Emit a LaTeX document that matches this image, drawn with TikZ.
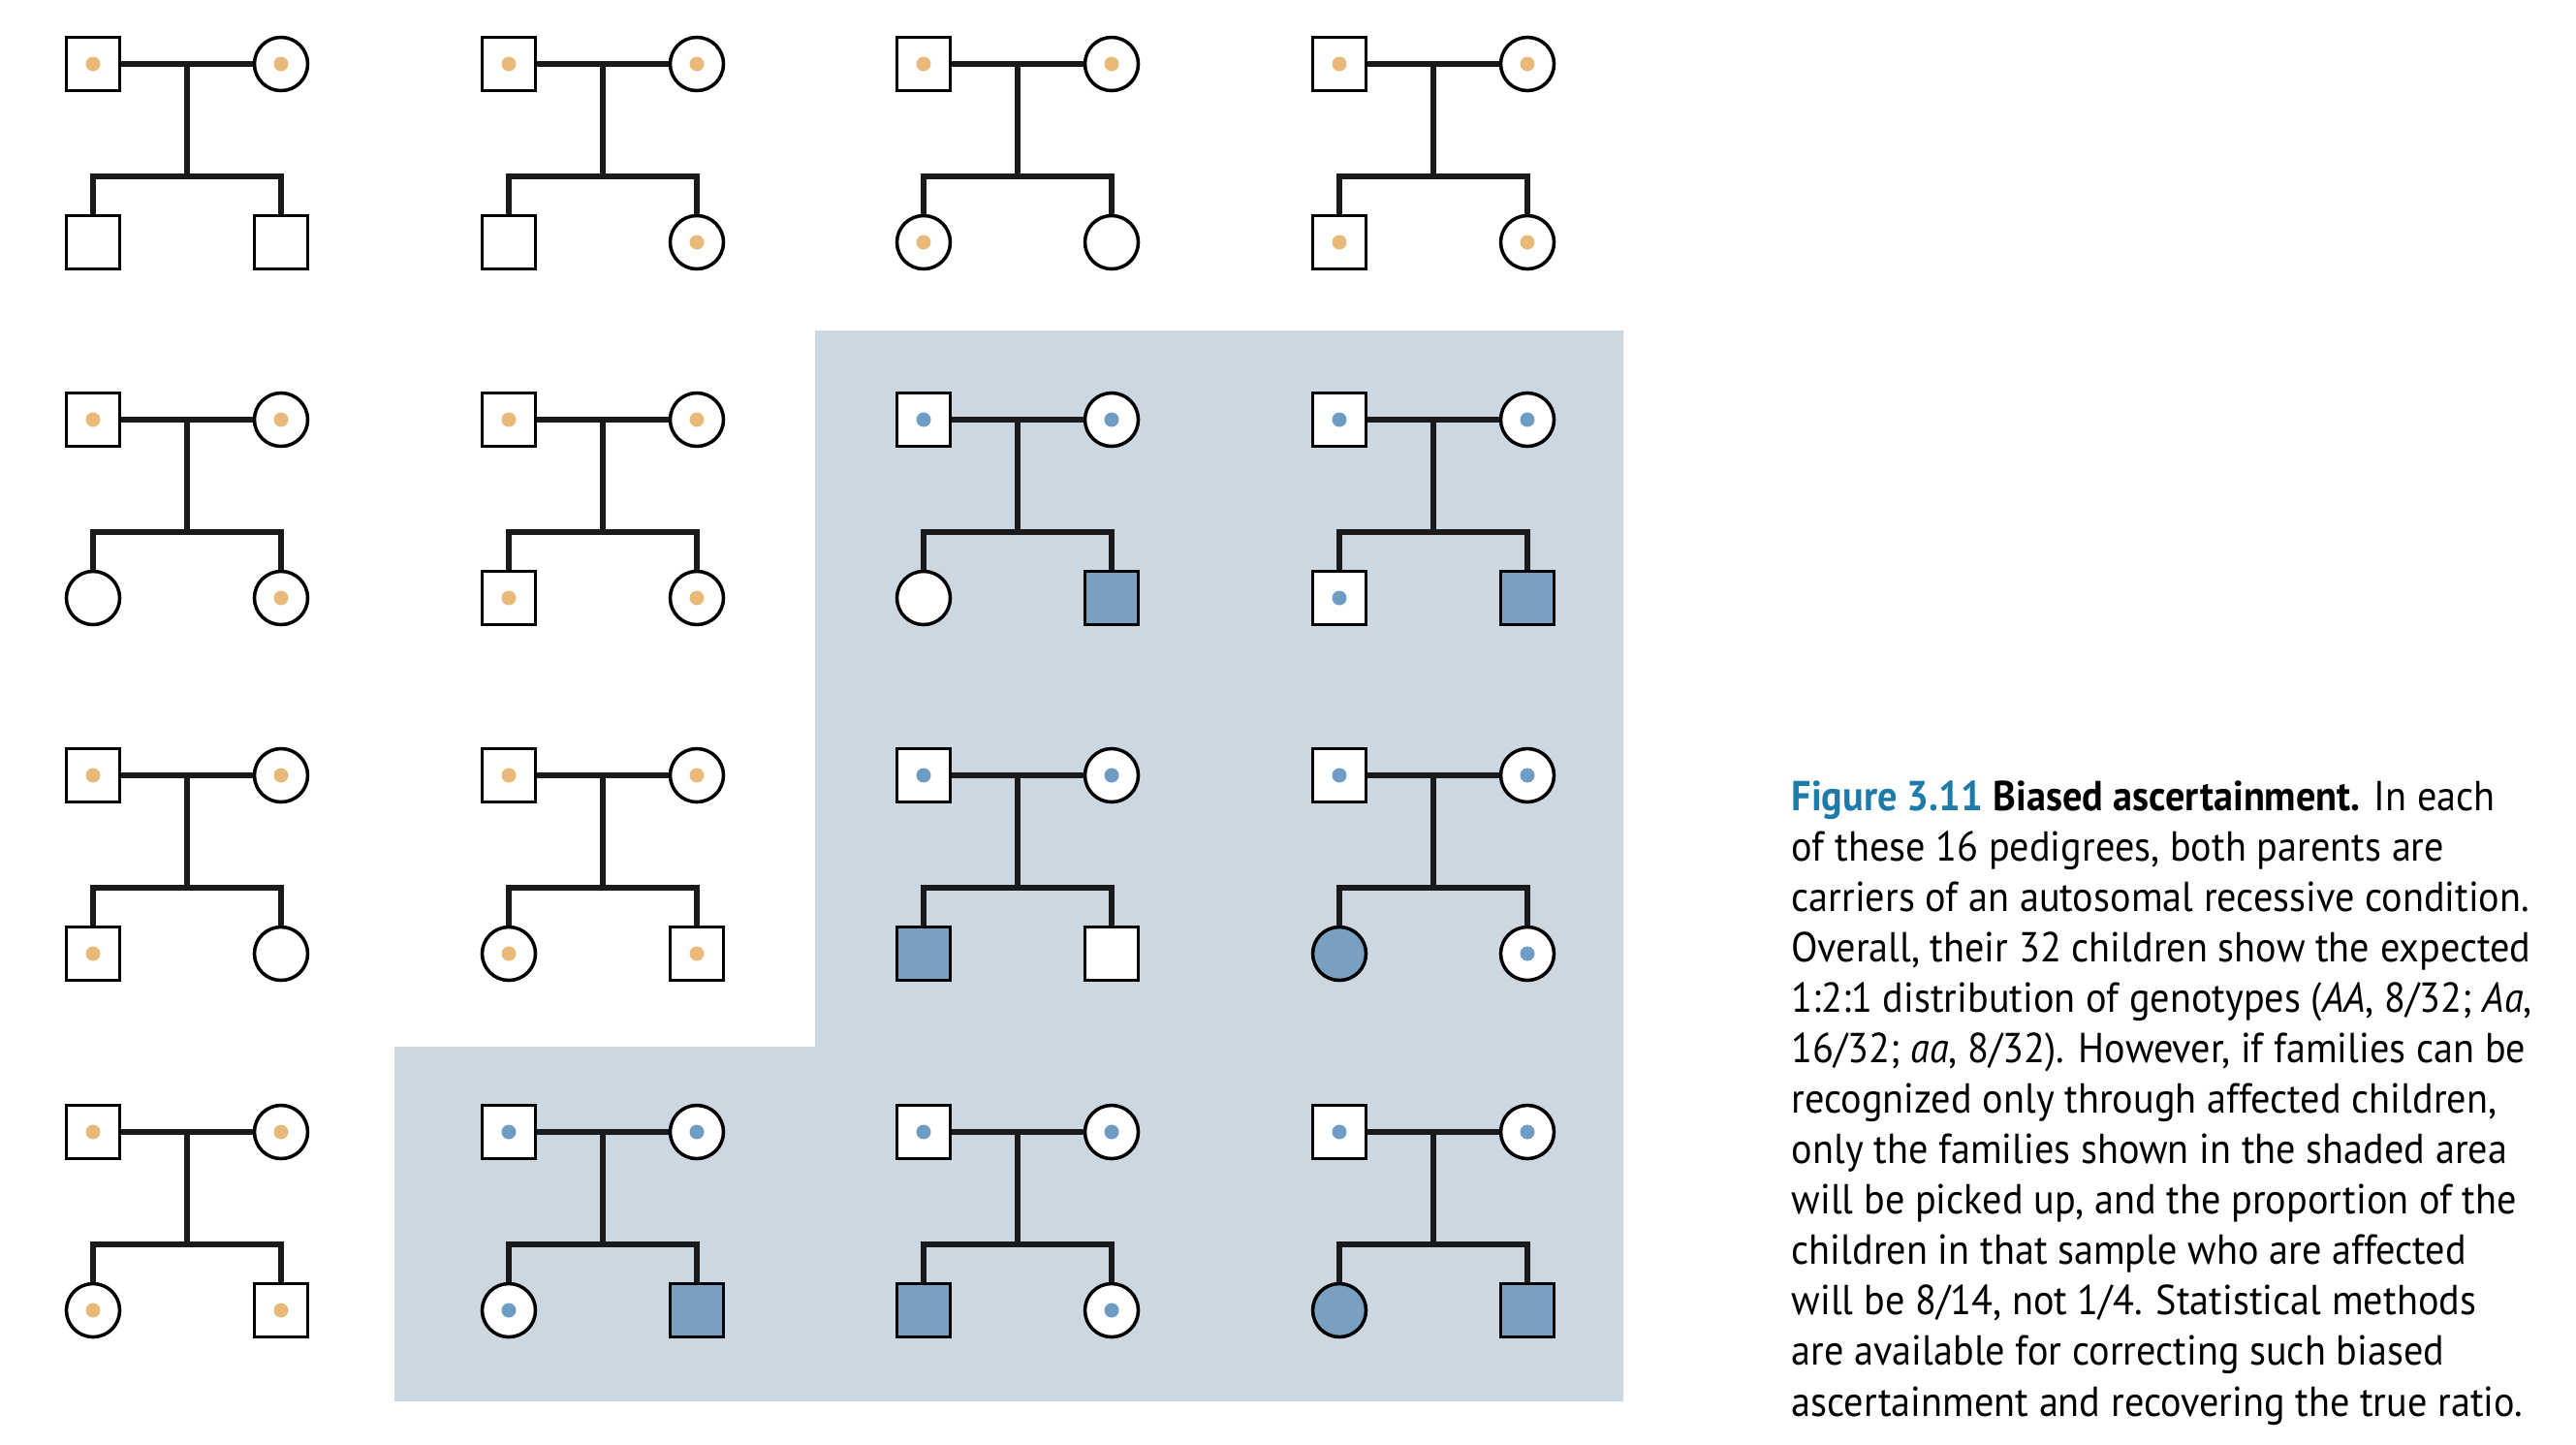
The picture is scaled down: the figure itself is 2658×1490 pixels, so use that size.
\documentclass[tikz,border=0pt]{standalone}
\usepackage{fontspec}
\setmainfont{PT Sans}[FakeStretch=0.93]
\usepackage{tikz}

\definecolor{carrierorange}{HTML}{E9B97A}
\definecolor{carrierblue}{HTML}{6F9CC4}
\definecolor{affectedblue}{HTML}{7AA0C1}
\definecolor{shadeblue}{HTML}{CCD8E1}
\definecolor{figblue}{HTML}{1C7BAA}
\definecolor{linegray}{HTML}{1A1A1A}

% one family: #1 name, #2 x, #3 y, #4 dot colour, #5 first child, #6 second child
\newcommand{\pedigree}[6]{%
  \node[male, carrier=#4] (#1f) at (#2,#3) {}; % father
  \node[female, carrier=#4] (#1m) at (#2+194,#3) {}; % mother
  \node[#5] (#1a) at (#2,#3+184) {}; % first child
  \node[#6] (#1b) at (#2+194,#3+184) {}; % second child
  \coordinate (#1s) at (#2+97,#3+116); % sibship line
  \draw[line] (#1f) -- (#1m);
  \draw[line] (#1f -| #1s) -- (#1s);
  \draw[line] (#1a) |- (#1s) -| (#1b);
}

\begin{document}
\begin{tikzpicture}[x=0.01cm, y=-0.01cm,
  male/.style={draw, rectangle, minimum size=0.55cm, inner sep=0pt, line width=1pt, fill=white},
  female/.style={draw, circle, minimum size=0.55cm, inner sep=0pt, line width=1pt, fill=white},
  carrier/.style={path picture={\fill[#1] (path picture bounding box.center) circle (0.075cm);}},
  affected/.style={fill=affectedblue},
  line/.style={line width=1.7pt, linegray},
  caption/.style={align=left, inner sep=0pt, font={\fontsize{12.3}{14.8}\selectfont}}]
\useasboundingbox (0,0) rectangle (2658,1490);
\fill[shadeblue] (841,341) -- (1675,341) -- (1675,1446) -- (407,1446) -- (407,1080) -- (841,1080) -- cycle; % shaded area
% row 1
\pedigree{pa}{96}{66}{carrierorange}{male}{male}
\pedigree{pb}{525}{66}{carrierorange}{male}{female, carrier=carrierorange}
\pedigree{pc}{953}{66}{carrierorange}{female, carrier=carrierorange}{female}
\pedigree{pd}{1382}{66}{carrierorange}{male, carrier=carrierorange}{female, carrier=carrierorange}
% row 2
\pedigree{pe}{96}{433}{carrierorange}{female}{female, carrier=carrierorange}
\pedigree{pf}{525}{433}{carrierorange}{male, carrier=carrierorange}{female, carrier=carrierorange}
\pedigree{pg}{953}{433}{carrierblue}{female}{male, affected}
\pedigree{ph}{1382}{433}{carrierblue}{male, carrier=carrierblue}{male, affected}
% row 3
\pedigree{pi}{96}{800}{carrierorange}{male, carrier=carrierorange}{female}
\pedigree{pj}{525}{800}{carrierorange}{female, carrier=carrierorange}{male, carrier=carrierorange}
\pedigree{pk}{953}{800}{carrierblue}{male, affected}{male}
\pedigree{pl}{1382}{800}{carrierblue}{female, affected}{female, carrier=carrierblue}
% row 4
\pedigree{pm}{96}{1168}{carrierorange}{female, carrier=carrierorange}{male, carrier=carrierorange}
\pedigree{pn}{525}{1168}{carrierblue}{female, carrier=carrierblue}{male, affected}
\pedigree{po}{953}{1168}{carrierblue}{male, affected}{female, carrier=carrierblue}
\pedigree{pp}{1382}{1168}{carrierblue}{female, affected}{male, affected}
% caption
\node[caption, anchor=base west] (cap) at (1848,1461) {\textbf{\color{figblue}Figure 3.11} \textbf{Biased ascertainment.} In each\\
of these 16 pedigrees, both parents are\\
carriers of an autosomal recessive condition.\\
Overall, their 32 children show the expected\\
1:2:1 distribution of genotypes (\textit{AA}, 8/32; \textit{Aa},\\
16/32; \textit{aa}, 8/32). However, if families can be\\
recognized only through affected children,\\
only the families shown in the shaded area\\
will be picked up, and the proportion of the\\
children in that sample who are affected\\
will be 8/14, not 1/4. Statistical methods\\
are available for correcting such biased\\
ascertainment and recovering the true ratio.};
\end{tikzpicture}
\end{document}
